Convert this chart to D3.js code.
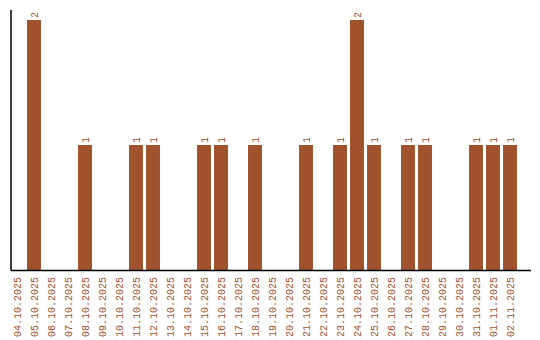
<!DOCTYPE html>
<html>
<head>
<meta charset="utf-8">
<script src="https://cdn.jsdelivr.net/npm/d3@7"></script>
<style>
  body { margin: 0; background: #fff; }
  text { font-family: "Liberation Mono", monospace; font-size: 10px; fill: #a0522d; }
</style>
</head>
<body>
<div id="chart"></div>
<script>
//Chart size
var width = 540;
var height = 340;

//Data
var dates = ["04.10.2025", "05.10.2025", "06.10.2025", "07.10.2025", "08.10.2025",
	"09.10.2025", "10.10.2025", "11.10.2025", "12.10.2025", "13.10.2025",
	"14.10.2025", "15.10.2025", "16.10.2025", "17.10.2025", "18.10.2025",
	"19.10.2025", "20.10.2025", "21.10.2025", "22.10.2025", "23.10.2025",
	"24.10.2025", "25.10.2025", "26.10.2025", "27.10.2025", "28.10.2025",
	"29.10.2025", "30.10.2025", "31.10.2025", "01.11.2025", "02.11.2025"];
var counts = [0, 2, 0, 0, 1,
	0, 0, 1, 1, 0,
	0, 1, 1, 0, 1,
	0, 0, 1, 0, 1,
	2, 1, 0, 1, 1,
	0, 0, 1, 1, 1];

var barColor = "#a0522d";

var svg = d3.select("#chart").append("svg")
	.attr("width", width)
	.attr("height", height);

var x = d3.scaleBand()
	.domain(dates)
	.range([8.5, 518.5])
	.paddingInner(0.18)
	.paddingOuter(0.09);

var y = d3.scaleLinear()
	.domain([0, 2])
	.range([270, 20]);

var data = dates.map(function(d, i) { return {date: d, value: counts[i]}; });

//Bars
svg.selectAll("rect.bar")
	.data(data.filter(function(d) { return d.value > 0; }))
	.enter()
	.append("rect")
	.attr("class", "bar")
	.attr("x", function(d) { return x(d.date); })
	.attr("y", function(d) { return y(d.value); })
	.attr("width", x.bandwidth())
	.attr("height", function(d) { return y(0) - y(d.value); })
	.attr("fill", barColor);

//Value labels, rotated
svg.selectAll("text.val")
	.data(data.filter(function(d) { return d.value > 0; }))
	.enter()
	.append("text")
	.attr("class", "val")
	.attr("transform", function(d) {
		return "translate(" + (x(d.date) + x.bandwidth() / 2) + "," + (y(d.value) - 2) + ") rotate(-90)";
	})
	.attr("dy", "0.35em")
	.text(function(d) { return d.value; });

//X axis (no ticks, rotated labels)
var xAxis = svg.append("g")
	.attr("transform", "translate(0,270)")
	.call(d3.axisBottom(x).tickSize(0).tickPadding(0));
xAxis.select(".domain").remove();
xAxis.selectAll("text")
	.attr("fill", barColor)
	.attr("x", -7)
	.attr("y", 0)
	.attr("dy", "0.35em")
	.attr("transform", "rotate(-90)")
	.style("text-anchor", "end")
	.style("font-family", "Liberation Mono, monospace")
	.style("font-size", "10px");

//Axis lines
svg.append("line")
	.attr("x1", 11).attr("x2", 531)
	.attr("y1", 270.5).attr("y2", 270.5)
	.attr("stroke", "#000")
	.attr("stroke-width", 1.5);
svg.append("line")
	.attr("x1", 11).attr("x2", 11)
	.attr("y1", 10).attr("y2", 270.5)
	.attr("stroke", "#000")
	.attr("stroke-width", 1.5);
</script>
</body>
</html>
